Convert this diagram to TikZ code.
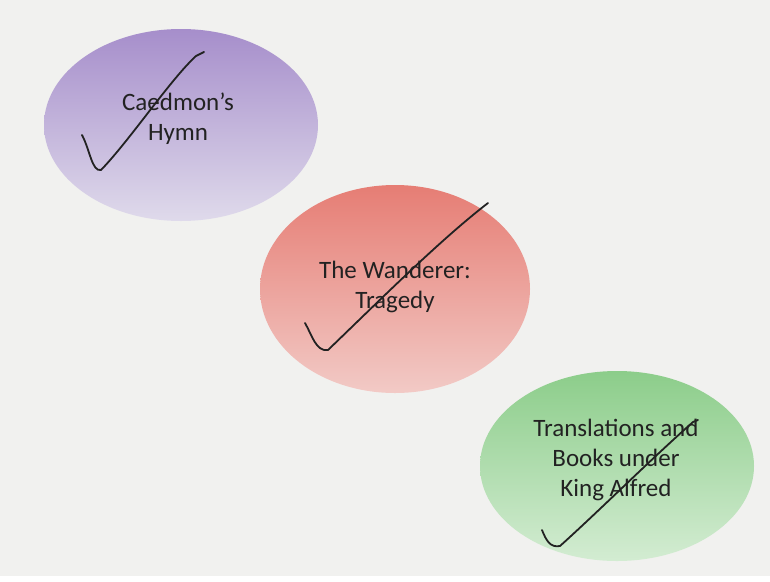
\documentclass[tikz,border=0pt]{standalone}
\usepackage{fontspec}
\setmainfont{Carlito}
\usetikzlibrary{shapes.geometric}
\definecolor{bg}{HTML}{F1F1EF}
\definecolor{pTop}{HTML}{A68ECB}
\definecolor{pBot}{HTML}{DFDAEB}
\definecolor{rTop}{HTML}{E67D74}
\definecolor{rBot}{HTML}{F2CAC6}
\definecolor{gTop}{HTML}{8CCD8A}
\definecolor{gBot}{HTML}{D3ECD2}
\definecolor{ink}{HTML}{222222}
\tikzset{
  blob/.style={ellipse, draw=none, inner sep=0pt},
  txt/.style={align=center, text=ink, font=\fontsize{25}{30}\selectfont},
  tick/.style={draw=ink, line width=1.8pt, line cap=round, line join=round}
}
\begin{document}
\begin{tikzpicture}[x=1pt,y=-1pt]
\useasboundingbox (0,0) rectangle (770,581);
\fill[bg] (0,0) rectangle (770,581);
\fill[white] (0,576) rectangle (770,581);
% ellipses
\node[blob, minimum width=274pt, minimum height=192pt, top color=pTop, bottom color=pBot] (e1) at (181,125) {};
\node[blob, minimum width=270pt, minimum height=208pt, top color=rTop, bottom color=rBot] (e2) at (395,289) {};
\node[blob, minimum width=274pt, minimum height=190pt, top color=gTop, bottom color=gBot] (e3) at (617,466) {};
% texts
\node[txt] (t1) at (178,119) {Caedmon’s\\Hymn};
\node[txt] (t2) at (395,287) {The Wanderer:\\Tragedy};
\node[txt] (t3) at (616,460) {Translations and\\Books under\\King Alfred};
% check marks
\draw[tick] (82,135) .. controls (90,150) and (92,172) .. (101,170)
  .. controls (130,140) and (170,80) .. (196,56) -- (204,52);
\draw[tick] (305,323) .. controls (312,335) and (316,352) .. (328,350)
  .. controls (380,300) and (440,240) .. (488,203);
\draw[tick] (542,530) .. controls (546,540) and (550,548) .. (560,546)
  .. controls (600,510) and (650,460) .. (693,422) -- (698,420);
\end{tikzpicture}
\end{document}
